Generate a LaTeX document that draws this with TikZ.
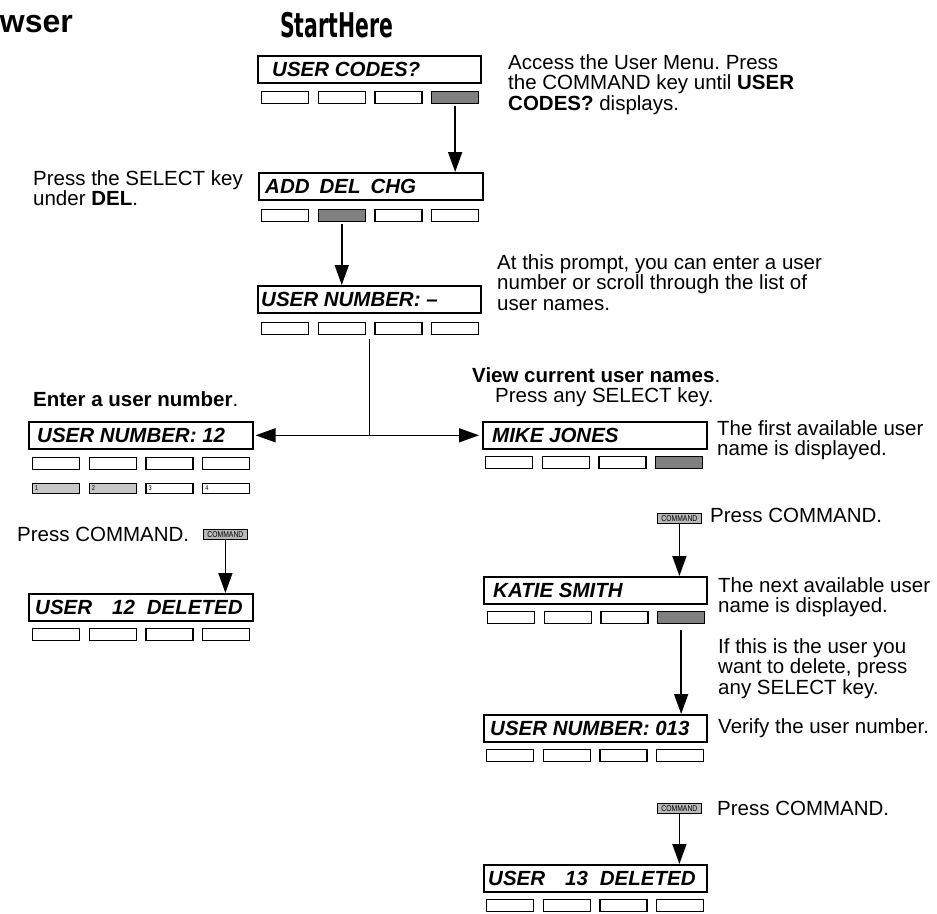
\documentclass[tikz,border=0pt]{standalone}
\usepackage{fontspec}
\setmainfont{Liberation Sans}
\newfontfamily\startfont[FakeStretch=0.6]{DejaVu Sans}
\newfontfamily\narrowfont[FakeStretch=0.8]{Liberation Sans}
\usetikzlibrary{arrows.meta}
\frenchspacing
\definecolor{keygray}{gray}{0.5}
\definecolor{lightkey}{gray}{0.78}
\definecolor{cmdgray}{gray}{0.72}
\tikzset{
 disp/.style={draw, line width=1.6pt, minimum width=#1, minimum height=27pt, inner sep=0pt, anchor=north west},
 disp/.default=224pt,
 keybox/.style={draw, line width=1.1pt, minimum width=47pt, minimum height=12pt, inner sep=0pt, anchor=north west, fill=white},
 numkey/.style={keybox, minimum height=9.5pt},
 numlabel/.style={anchor=west, inner sep=0pt, font=\fontsize{7}{7}\selectfont\narrowfont},
 dtext/.style={anchor=base west, inner sep=0pt, font=\fontsize{20.5}{20.5}\selectfont\bfseries\itshape},
 desc/.style={anchor=base west, inner sep=0pt, align=left, font=\fontsize{20.5}{20.7}\selectfont\frenchspacing},
 cmdbtn/.style={draw, line width=0.8pt, fill=cmdgray, minimum width=44pt, minimum height=10pt, inner sep=0pt, anchor=north west, font=\fontsize{8.5}{8.5}\selectfont\narrowfont},
 conn/.style={line width=1.6pt, -{Triangle[length=20pt,width=14pt]}},
 plainline/.style={line width=1.6pt},
}
\newcommand\mykeys[4]{%
 \foreach \i in {1,...,4}{%
  \pgfmathsetmacro\kx{#2+(\i-1)*56.7}%
  \ifnum\i=#4\relax
   \node[keybox,fill=keygray] (#1-\i) at (\kx,#3) {};%
  \else
   \node[keybox] (#1-\i) at (\kx,#3) {};%
  \fi}}
\begin{document}
\begin{tikzpicture}[x=1pt,y=-1pt]
\fill[white] (0,0) rectangle (937,913);
\useasboundingbox (0,0) rectangle (937,913);

% titles
\node[anchor=base east, inner sep=0pt, font=\fontsize{32}{32}\selectfont\bfseries] (title) at (73,32) {wser};
\node[anchor=base west, inner sep=0pt, font=\fontsize{34}{34}\selectfont\startfont\bfseries] (start) at (280,37) {StartHere};

% displays
\node[disp=223pt] (uc) at (257,55) {};
\node[dtext] (t-uc) at ([xshift=15pt,yshift=-7.3pt]uc.west) {USER CODES?};
\mykeys{uc}{261}{91}{4}

\node[disp=224pt] (add) at (258,172) {};
\node[dtext] (t-add) at ([xshift=7pt,yshift=-7.3pt]add.west) {ADD\hspace{10pt}DEL\hspace{10pt}CHG};
\mykeys{add}{261}{209}{2}

\node[disp=223pt] (un) at (257,285) {};
\node[dtext] (t-un) at ([xshift=4pt,yshift=-7.3pt]un.west) {USER NUMBER: –};
\mykeys{un}{261}{322}{0}

\node[disp=224pt] (un12) at (28,421) {};
\node[dtext] (t-un12) at ([xshift=9pt,yshift=-7.3pt]un12.west) {USER NUMBER: 12};
\mykeys{unk}{32}{457}{0}

\node[numkey,fill=lightkey] (nk-1) at (32,483) {};
\node[numkey,fill=lightkey] (nk-2) at (88.7,483) {};
\node[numkey] (nk-3) at (145.4,483) {};
\node[numkey] (nk-4) at (202.1,483) {};
\node[numlabel] (nl-1) at ([xshift=3pt]nk-1.west) {1};
\node[numlabel] (nl-2) at ([xshift=3pt]nk-2.west) {2};
\node[numlabel] (nl-3) at ([xshift=3pt]nk-3.west) {3};
\node[numlabel] (nl-4) at ([xshift=3pt]nk-4.west) {4};

\node[cmdbtn] (cmdL) at (203,529) {COMMAND};

\node[disp=224pt] (del12) at (28,593) {};
\node[dtext] (t-del12) at ([xshift=7pt,yshift=-7.3pt]del12.west) {USER\hspace{20pt}12\hspace{12pt}DELETED};
\mykeys{delk}{32}{628}{0}

\node[disp=224pt] (mike) at (482,421) {};
\node[dtext] (t-mike) at ([xshift=10pt,yshift=-7.3pt]mike.west) {MIKE JONES};
\mykeys{mike}{485}{456}{4}

\node[cmdbtn] (cmdR1) at (657,513) {COMMAND};

\node[disp=223pt] (katie) at (483,576) {};
\node[dtext] (t-katie) at ([xshift=10pt,yshift=-7.3pt]katie.west) {KATIE SMITH};
\mykeys{katie}{487}{611}{4}

\node[disp=223pt] (un13) at (483,714) {};
\node[dtext] (t-un13) at ([xshift=7pt,yshift=-7.3pt]un13.west) {USER NUMBER: 013};
\mykeys{un13k}{486}{749}{0}

\node[cmdbtn] (cmdR2) at (657,803) {COMMAND};

\node[disp=223pt] (del13) at (483,864) {};
\node[dtext] (t-del13) at ([xshift=5pt,yshift=-7.3pt]del13.west) {USER\hspace{20pt}13\hspace{12pt}DELETED};
\mykeys{del13k}{486}{899}{0}

% descriptions (base = baseline of last line)
\node[desc] (d-acc) at (508,110.4) {Access the User Menu. Press\\the COMMAND key until \textbf{USER}\\\textbf{CODES?} displays.};
\node[desc] (d-sel) at (33,205.7) {Press the SELECT key\\under \textbf{DEL}.};
\node[desc] (d-atp) at (497,310.4) {At this prompt, you can enter a user\\number or scroll through the list of\\user names.};
\node[desc] (d-enter) at (33,406) {\textbf{Enter a user number}.};
\node[desc] (d-view) at (472,382) {\textbf{View current user names}.};
\node[desc] (d-pany) at (495,402) {Press any SELECT key.};
\node[desc] (d-first) at (717,455.7) {The first available user\\name is displayed.};
\node[desc] (d-cmdL) at (17,541) {Press COMMAND.};
\node[desc] (d-cmdR1) at (710,522) {Press COMMAND.};
\node[desc] (d-next) at (718,612.7) {The next available user\\name is displayed.};
\node[desc] (d-if) at (718,694.4) {If this is the user you\\want to delete, press\\any SELECT key.};
\node[desc] (d-verify) at (718,733) {Verify the user number.};
\node[desc] (d-cmdR2) at (717,815) {Press COMMAND.};

% connectors
\draw[conn] ([yshift=-2pt]uc-4.south) -- (uc-4.south |- add.north);
\draw[conn] ([yshift=-2pt]add-2.south) -- (add-2.south |- un.north);
\coordinate (split) at (un.south |- un12.east);
\draw[plainline] ([yshift=-4pt]un.south |- un-1.south) -- (split);
\draw[conn, shorten >=2pt] (split) -- (un12.east);
\draw[conn, shorten >=3pt] (split) -- (mike.west);
\draw[conn] (cmdL.south) -- (cmdL.south |- del12.north);
\draw[conn] (cmdR1.south) -- (cmdR1.south |- katie.north);
\draw[conn] ([yshift=-6pt]katie-4.south) -- (katie-4.south |- un13.north);
\draw[conn] (cmdR2.south) -- (cmdR2.south |- del13.north);
\end{tikzpicture}
\end{document}
